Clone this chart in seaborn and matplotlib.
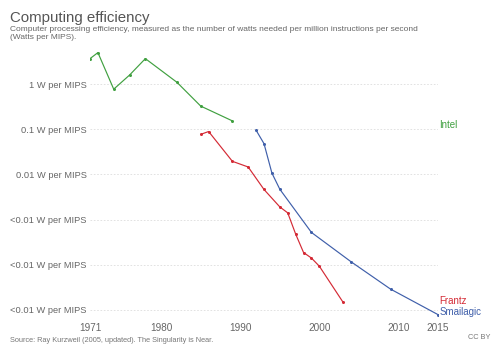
import numpy as np
import pandas as pd
import matplotlib
matplotlib.use("Agg")
import matplotlib.pyplot as plt
import seaborn as sns

intel_years = [1971, 1972, 1974, 1976, 1978, 1982, 1985, 1989]
intel_vals = [3.65, 4.96, 0.77, 1.58, 3.65, 1.09, 0.325, 0.153]
frantz_years = [1985, 1986, 1989, 1991, 1993, 1995, 1996, 1997, 1998, 1999, 2000, 2003]
frantz_vals = [0.077, 0.089, 0.0195, 0.0146, 0.00464, 0.00191, 0.00141, 0.00048, 0.000187, 0.000141, 0.000093, 0.0000148]
smail_years = [1992, 1993, 1994, 1995, 1999, 2004, 2009, 2015]
smail_vals = [0.095, 0.048, 0.0107, 0.0047, 0.00052, 0.000117, 0.000029, 0.0000079]

ytick_vals = [1, 0.1, 0.01, 0.001, 0.0001, 0.00001]
ytick_labels = ["1 W per MIPS", "0.1 W per MIPS", "0.01 W per MIPS",
                "<0.01 W per MIPS", "<0.01 W per MIPS", "<0.01 W per MIPS"]
xtick_vals = [1971, 1980, 1990, 2000, 2010, 2015]

series_names = ["Intel", "Frantz", "Smailagic"]
colors = {"Intel": "#40a040", "Frantz": "#d42a35", "Smailagic": "#3f5faa"}

df = pd.concat([
    pd.DataFrame({"year": intel_years, "value": intel_vals, "series": "Intel"}),
    pd.DataFrame({"year": frantz_years, "value": frantz_vals, "series": "Frantz"}),
    pd.DataFrame({"year": smail_years, "value": smail_vals, "series": "Smailagic"}),
])

sns.set_style("white")
plt.rcParams['font.family'] = ['Liberation Sans', 'DejaVu Sans']

fig = plt.figure(figsize=(5.0, 3.53), dpi=100)
ax = fig.add_axes([0.18, 0.102, 0.696, 0.764])

sns.lineplot(data=df, x="year", y="value", hue="series", palette=colors,
             hue_order=series_names, marker="o", markersize=2.2, markeredgewidth=0,
             linewidth=0.85, ax=ax, legend=False, estimator=None, sort=False)

ax.set_yscale("log")
ax.set_xlim(1971, 2015)
ax.set_ylim(7.0e-6, 6.5)
ax.set_yticks(ytick_vals)
ax.set_yticklabels(ytick_labels)
ax.minorticks_off()
ax.set_xticks(xtick_vals)
ax.set_xticklabels([str(v) for v in xtick_vals])
ax.tick_params(axis="both", length=0, labelcolor="#666666")
ax.tick_params(axis="y", pad=2.5, labelsize=6.7)
ax.tick_params(axis="x", pad=4, labelsize=7.2)
for s in ax.spines.values():
    s.set_visible(False)
ax.grid(axis="y", linestyle=(0, (2, 2)), color="#dddddd", linewidth=0.6)
ax.set_xlabel("")
ax.set_ylabel("")

ax.text(1.004, intel_vals[-1] * 0.82, "Intel", transform=ax.get_yaxis_transform(),
        color=colors["Intel"], fontsize=7, va="center", ha="left")
ax.text(1.004, 1.6e-5, "Frantz", transform=ax.get_yaxis_transform(),
        color=colors["Frantz"], fontsize=7, va="center", ha="left")
ax.text(1.004, 9.2e-6, "Smailagic", transform=ax.get_yaxis_transform(),
        color=colors["Smailagic"], fontsize=7, va="center", ha="left")

fig.text(0.02, 0.968, "Computing efficiency", fontsize=10.8, color="#555555", va="top")
fig.text(0.02, 0.925, "Computer processing efficiency, measured as the number of watts needed per million instructions per second\n(Watts per MIPS).",
         fontsize=6.0, color="#666666", va="top", linespacing=1.05)
fig.text(0.02, 0.035, "Source: Ray Kurzweil (2005, updated). The Singularity is Near.",
         fontsize=5.3, color="#777777", va="center")
fig.text(0.98, 0.045, "CC BY", fontsize=5.3, color="#777777", va="center", ha="right")

fig.savefig("out.png", dpi=100)
